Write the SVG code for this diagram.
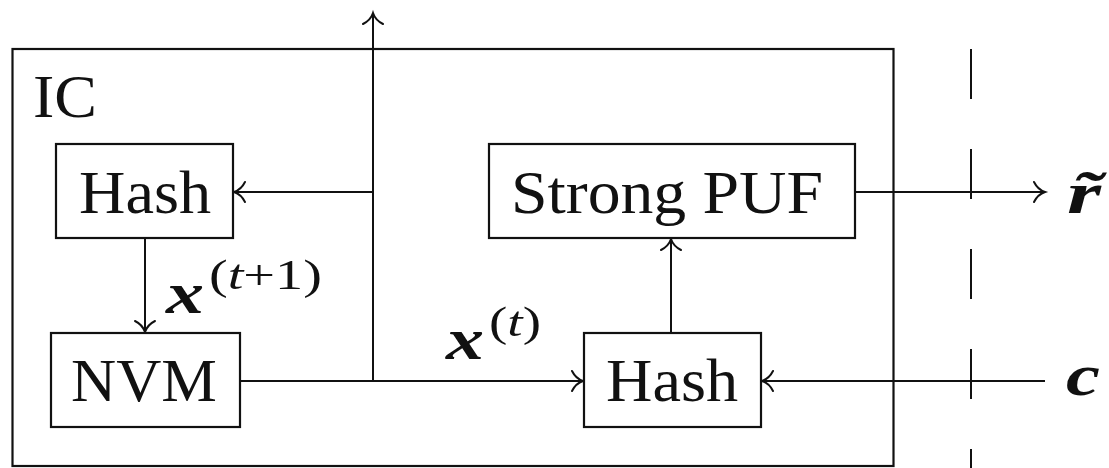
<svg xmlns="http://www.w3.org/2000/svg" width="1109" height="468" viewBox="0 0 1109 468">
<style>
.box{fill:#fff;stroke:#111;stroke-width:2.2}
.frame{fill:none;stroke:#111;stroke-width:2.2}
.lbl{font-family:"Liberation Serif","DejaVu Serif",serif;font-size:62px;fill:#111}
.m{font-family:"Liberation Serif","DejaVu Serif",serif;font-size:60px;font-weight:bold;font-style:italic;fill:#111}
.sup{font-family:"Liberation Serif","DejaVu Serif",serif;font-size:42px;fill:#111}
.conn line{stroke:#111;stroke-width:2;fill:none}
.dash{stroke:#111;stroke-width:2;stroke-dasharray:50 50}
</style>
<defs>
<marker id="arr" markerUnits="userSpaceOnUse" markerWidth="24" markerHeight="24" viewBox="-14 -12 16 24" refX="0" refY="0" orient="auto">
<path d="M -11,-10 C -8,-4 -3,-1 0,0 C -3,1 -8,4 -11,10" fill="none" stroke="#111" stroke-width="2" stroke-linecap="round"/>
</marker>
</defs>
<rect width="1109" height="468" fill="#fff"/>
<g id="ic">
<rect class="frame" x="12.5" y="49" width="881" height="417"/>
<text class="lbl" x="33" y="117" textLength="64" lengthAdjust="spacingAndGlyphs">IC</text>
</g>
<line class="dash" x1="971" y1="49" x2="971" y2="468"/>
<g class="conn">
<line x1="373" y1="381" x2="373" y2="13" marker-end="url(#arr)"/>
<line x1="373" y1="192" x2="234" y2="192" marker-end="url(#arr)"/>
<line x1="145" y1="238" x2="145" y2="332" marker-end="url(#arr)"/>
<line x1="240" y1="381" x2="583" y2="381" marker-end="url(#arr)"/>
<line x1="671" y1="333" x2="671" y2="239" marker-end="url(#arr)"/>
<line x1="855" y1="192" x2="1045" y2="192" marker-end="url(#arr)"/>
<line x1="1045" y1="381" x2="762" y2="381" marker-end="url(#arr)"/>
</g>
<g id="hash1">
<rect class="box" x="56" y="144" width="177" height="94"/>
<text class="lbl" x="79" y="213" textLength="132" lengthAdjust="spacingAndGlyphs">Hash</text>
</g>
<g id="nvm">
<rect class="box" x="51" y="333" width="189" height="94"/>
<text class="lbl" x="71" y="401" textLength="146" lengthAdjust="spacingAndGlyphs">NVM</text>
</g>
<g id="puf">
<rect class="box" x="489" y="144" width="366" height="94"/>
<text class="lbl" x="511" y="213" textLength="312" lengthAdjust="spacingAndGlyphs">Strong PUF</text>
</g>
<g id="hash2">
<rect class="box" x="584" y="333" width="177" height="94"/>
<text class="lbl" x="606" y="401" textLength="132" lengthAdjust="spacingAndGlyphs">Hash</text>
</g>
<g id="labels">
<text class="m" x="166" y="313" textLength="38" lengthAdjust="spacingAndGlyphs">x</text>
<text class="sup" x="209" y="289" textLength="113" lengthAdjust="spacingAndGlyphs">(<tspan font-style="italic">t</tspan>+1)</text>
<text class="m" x="446" y="359" textLength="38" lengthAdjust="spacingAndGlyphs">x</text>
<text class="sup" x="489" y="336" textLength="52" lengthAdjust="spacingAndGlyphs">(<tspan font-style="italic">t</tspan>)</text>
<text class="m" x="1067" y="213" textLength="34" lengthAdjust="spacingAndGlyphs">r&#x303;</text>
<text class="m" x="1066" y="395" textLength="34" lengthAdjust="spacingAndGlyphs">c</text>
</g>
</svg>
